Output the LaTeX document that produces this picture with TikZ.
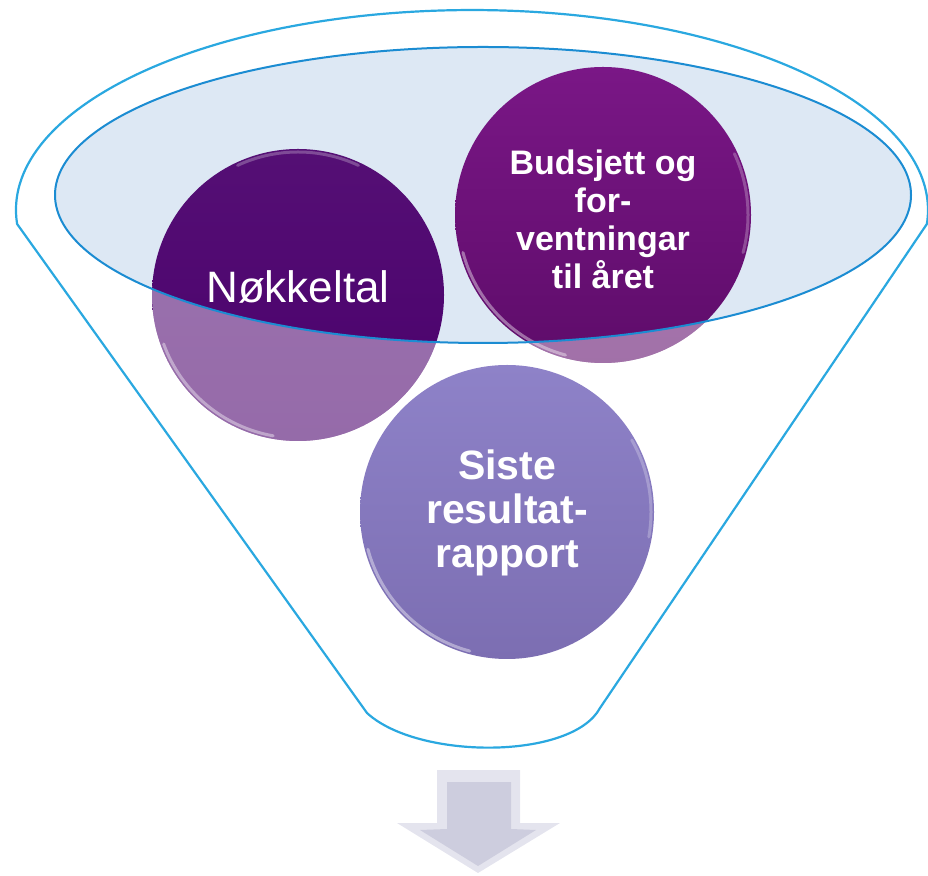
\documentclass[tikz,border=0pt]{standalone}
\usepackage{fontspec}
\setmainfont{Liberation Sans}
\definecolor{rimblue}{HTML}{2AA8E0}
\definecolor{lipblue}{HTML}{1B8CD2}
\definecolor{lipfill}{HTML}{DDE8F4}
\definecolor{nokdark}{HTML}{4A006C}
\definecolor{budtop}{HTML}{7A1786}
\definecolor{budbot}{HTML}{5E0C6A}
\definecolor{sistetop}{HTML}{8E82C8}
\definecolor{sistebot}{HTML}{7C6EB2}
\definecolor{arrowrim}{HTML}{E4E4EE}
\definecolor{arrowface}{HTML}{CDCDDE}
\newcommand\balltext[2]{\raisebox{#1}[0pt][0pt]{\parbox[t]{220pt}{\centering #2}}}
\begin{document}
\begin{tikzpicture}[x=1pt,y=1pt,
                      ball/.style={shape=circle,inner sep=0pt,text=white},
                      gloss/.style={white,opacity=.4,line width=3pt,line cap=round}]
                  \useasboundingbox (0,0) rectangle (928,875);
                  \filldraw[fill=white,draw=rimblue,line width=2.2pt] (17.1,651)
                      arc[start angle=184,end angle=-4,x radius=456,y radius=200]
                      -- (600,167) .. controls (572,115) and (418,115) .. (367,162) -- cycle;
                  \fill[lipfill] (483,680) ellipse [x radius=428,y radius=148];
                  \node[ball,minimum size=292pt,top color=nokdark!94!white,bottom color=nokdark,
                      font=\fontsize{44}{50}\selectfont] (nok) at (298,580)
                      {\balltext{-8pt}{N\o kkeltal}};
                  \node[ball,minimum size=296pt,top color=budtop,bottom color=budbot,
                      font=\bfseries\fontsize{34}{38}\selectfont] (bud) at (603,660)
                      {\balltext{40pt}{Budsjett og\\for-\\ventningar\\til året}};
                  \node[ball,minimum size=294pt,top color=sistetop,bottom color=sistebot,
                      font=\bfseries\fontsize{41}{44}\selectfont] (siste) at (507,363)
                      {\balltext{32pt}{Siste\\resultat-\\rapport}};
                  \begin{scope}
                      \clip (nok.center) circle (146);
                      \fill[white,opacity=.42,even odd rule] (0,0) rectangle (928,875)
                          (483,680) ellipse [x radius=428,y radius=148];
                  \end{scope}
                  \begin{scope}
                      \clip (bud.center) circle (148);
                      \fill[white,opacity=.42,even odd rule] (0,0) rectangle (928,875)
                          (483,680) ellipse [x radius=428,y radius=148];
                  \end{scope}
                  \draw[gloss] (nok.center) ++(200:143) arc[start angle=200,end angle=260,radius=143];
                  \draw[gloss] (bud.center) ++(195:145) arc[start angle=195,end angle=255,radius=145];
                  \draw[gloss] (siste.center) ++(195:144) arc[start angle=195,end angle=255,radius=144];
                  \draw[gloss,opacity=.25] (nok.center) ++(65:143) arc[start angle=65,end angle=115,radius=143];
                  \draw[gloss,opacity=.25] (bud.center) ++(-15:145) arc[start angle=-15,end angle=25,radius=145];
                  \draw[gloss,opacity=.25] (siste.center) ++(-10:144) arc[start angle=-10,end angle=30,radius=144];
                  \draw[lipblue,line width=2pt] (483,680) ellipse [x radius=428,y radius=148];
                  \fill[arrowrim] (437,105) -- (520,105) -- (520,52) -- (560,52) -- (478,2)
                      -- (397,52) -- (437,52) -- cycle;
                  \fill[arrowface] (447,93) -- (511,93) -- (511,46) -- (536,45) -- (478,9)
                      -- (420,45) -- (447,46) -- cycle;
              \end{tikzpicture}
\end{document}
